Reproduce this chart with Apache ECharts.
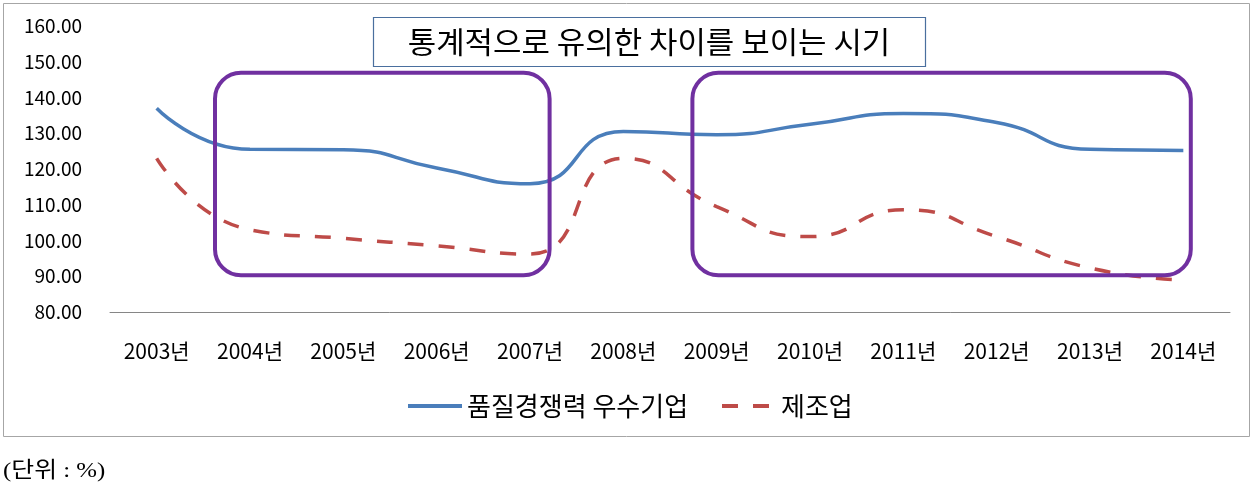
<!DOCTYPE html>
<html>
<head>
<meta charset="utf-8">
<script src="https://cdn.jsdelivr.net/npm/echarts@6/dist/echarts.min.js"></script>
<style>
html,body{margin:0;padding:0;background:#fff;}
#c{width:1255px;height:490px;}
</style>
</head>
<body>
<div id="c"></div>
<script>
const categories = ['2003년','2004년','2005년','2006년','2007년','2008년','2009년','2010년','2011년','2012년','2013년','2014년'];
const seriesNames = ['품질경쟁력 우수기업','제조업'];
const qualityLeaders = [137.0, 125.5, 125.4, 120.3, 115.9, 130.5, 129.6, 132.5, 135.5, 133.0, 125.5, 125.2];
const manufacturing = [123.0, 103.0, 100.6, 98.5, 96.2, 123.0, 109.5, 101.1, 108.6, 101.1, 92.3, 89.0];
const yMin = 80, yMax = 160, yStep = 10;
const titleText = '통계적으로 유의한 차이를 보이는 시기';
const unitText = '(단위 : %)';
// highlighted periods: [startCategory, endCategory]
const periods = [['2004년','2007년'], ['2009년','2014년']];

const FONT = '"Noto Sans CJK KR", "Noto Sans", sans-serif';
const BLUE = '#4A7EBB', RED = '#BE4B48';
const chart = echarts.init(document.getElementById('c'), null, {renderer:'canvas'});

const option = {
  animation: false,
  backgroundColor: '#fff',
  grid: {left: 110, right: 25, top: 26, bottom: 178, containLabel: false},
  legend: {show: false, data: seriesNames},
  xAxis: {
    type: 'category', data: categories, boundaryGap: true,
    axisLine: {show: true, lineStyle: {color: '#868686', width: 1}},
    axisTick: {show: false},
    axisLabel: {fontFamily: FONT, fontSize: 21, color: '#000', margin: 29}
  },
  yAxis: {
    type: 'value', min: yMin, max: yMax, interval: yStep,
    axisLine: {show: false}, axisTick: {show: false}, splitLine: {show: false},
    axisLabel: {fontFamily: FONT, fontSize: 19, color: '#000', margin: 28,
      formatter: v => v.toFixed(2)}
  },
  series: [
    {name: seriesNames[0], type: 'line', data: qualityLeaders, smooth: 0.55,
     symbol: 'none', lineStyle: {color: BLUE, width: 3.5}, itemStyle: {color: BLUE}},
    {name: seriesNames[1], type: 'line', data: manufacturing, smooth: 0.55,
     symbol: 'none', lineStyle: {color: RED, width: 3.5, type: [16, 15]}, itemStyle: {color: RED}}
  ]
};
chart.setOption(option);

function buildGraphics(){
  const catW = chart.convertToPixel({xAxisIndex:0}, categories[1]) - chart.convertToPixel({xAxisIndex:0}, categories[0]);
  const yTop = chart.convertToPixel({yAxisIndex:0}, 146.9);
  const yBot = chart.convertToPixel({yAxisIndex:0}, 90.3);
  const offsets = [[-0.375, 0.21], [-0.26, 0.08]];
  const g = [];
  // outer border
  g.push({type:'rect', shape:{x:3.5, y:3.5, width:1246, height:433}, style:{fill:null, stroke:'#a6a6a6', lineWidth:1}, z:0});
  periods.forEach((p, i) => {
    const x1 = chart.convertToPixel({xAxisIndex:0}, p[0]) + offsets[i][0]*catW;
    const x2 = chart.convertToPixel({xAxisIndex:0}, p[1]) + offsets[i][1]*catW;
    g.push({type:'rect', shape:{x:x1, y:yTop, width:x2-x1, height:yBot-yTop, r:26},
      style:{fill:null, stroke:'#7030A0', lineWidth:4}, z:10});
  });
  // title box
  g.push({type:'rect', shape:{x:373.5, y:17.5, width:552, height:49}, style:{fill:'#fff', stroke:'#4A6F9E', lineWidth:1.2}, z:11});
  g.push({type:'text', x:649, y:42, scaleX:1.03, style:{text:titleText, font:'30px ' + FONT, fill:'#000', align:'center', verticalAlign:'middle'}, z:12});
  // legend
  const ly = 406;
  g.push({type:'line', shape:{x1:408, y1:ly, x2:462, y2:ly}, style:{stroke:BLUE, lineWidth:4}, z:12});
  g.push({type:'text', x:467, y:ly, style:{text:seriesNames[0], font:'26px ' + FONT, fill:'#000', align:'left', verticalAlign:'middle'}, z:12});
  g.push({type:'line', shape:{x1:722, y1:ly, x2:769, y2:ly}, style:{stroke:RED, lineWidth:4, lineDash:[16,15]}, z:12});
  g.push({type:'text', x:781, y:ly, style:{text:seriesNames[1], font:'26px ' + FONT, fill:'#000', align:'left', verticalAlign:'middle'}, z:12});
  // unit note
  g.push({type:'text', x:3, y:471, scaleX:1.13, style:{text:unitText, font:'22px "Liberation Serif", "DejaVu Serif", "Noto Sans CJK KR", serif', fill:'#000', align:'left', verticalAlign:'middle'}, z:12});
  chart.setOption({graphic: g});
}
buildGraphics();
</script>
</body>
</html>
